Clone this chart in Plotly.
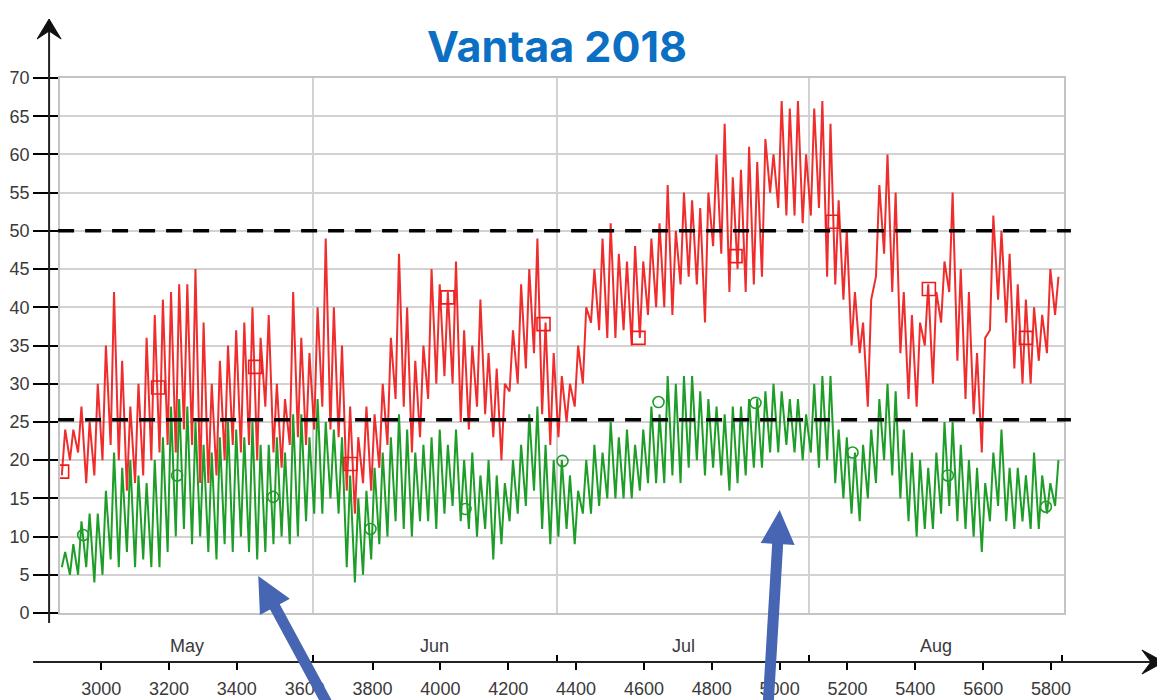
import math
import plotly.graph_objects as go

W, H = 1165, 700

# ---------------- data ----------------
# daily maxima / minima, 1 May (day 0) .. 31 Aug (day 122); x axis = hour of year
red_high = [24, 24, 27, 25, 30, 35, 42, 33, 27, 30, 36, 39, 41, 42, 43, 43, 45, 38, 30, 33,
            35, 37, 38, 40, 36, 39, 30, 28, 42, 36, 34, 40, 49, 40, 35, 27, 23, 27, 26, 30,
            36, 47, 40, 33, 35, 45, 43, 42, 46, 37, 35, 41, 34, 32, 30, 37, 43, 45, 49, 38,
            34, 31, 30, 35, 40, 45, 49, 51, 47, 46, 48, 46, 49, 51, 56, 50, 55, 54, 53, 55,
            60, 64, 57, 58, 61, 59, 62, 60, 67, 66, 67, 60, 66, 67, 64, 54, 50, 42, 38, 41,
            56, 60, 55, 42, 39, 38, 43, 42, 46, 55, 45, 42, 34, 36, 52, 50, 47, 43, 41, 40,
            39, 45, 44]
red_low = [18, 20, 21, 17, 18, 20, 22, 20, 16, 17, 18, 20, 21, 22, 21, 24, 22, 17, 17, 18,
           20, 22, 21, 22, 20, 27, 21, 19, 22, 23, 22, 24, 27, 24, 23, 16, 13, 17, 16, 19,
           22, 28, 27, 21, 23, 28, 30, 31, 30, 25, 24, 27, 26, 23, 20, 29, 30, 32, 34, 26,
           22, 23, 25, 27, 30, 38, 37, 36, 36, 37, 35, 36, 39, 40, 40, 39, 43, 44, 43, 38,
           48, 47, 42, 45, 42, 43, 44, 55, 53, 52, 52, 51, 52, 53, 44, 43, 41, 35, 34, 27,
           44, 47, 42, 34, 28, 27, 35, 30, 38, 42, 33, 28, 26, 21, 37, 41, 38, 32, 30, 30,
           33, 34, 39]
green_high = [8, 9, 12, 13, 13, 16, 21, 19, 20, 18, 17, 20, 23, 27, 28, 27, 25, 22, 21, 23,
              25, 24, 23, 25, 22, 22, 23, 21, 26, 26, 23, 28, 25, 24, 23, 18, 15, 16, 19, 21,
              23, 26, 24, 21, 22, 23, 24, 22, 24, 20, 21, 18, 20, 18, 17, 20, 22, 26, 27, 22,
              20, 20, 18, 16, 20, 22, 21, 25, 23, 24, 22, 24, 27, 26, 31, 30, 31, 31, 29, 28,
              27, 26, 27, 27, 28, 28, 29, 30, 29, 28, 28, 26, 30, 31, 31, 24, 23, 21, 22, 24,
              28, 30, 29, 24, 21, 20, 19, 21, 25, 25, 22, 20, 19, 17, 21, 24, 19, 19, 18, 21,
              18, 17, 20]
green_low = [6, 5, 5, 6, 4, 5, 7, 6, 8, 6, 7, 6, 6, 8, 10, 11, 9, 10, 8, 7,
             9, 8, 10, 8, 7, 8, 9, 10, 9, 10, 12, 13, 13, 15, 13, 6, 4, 5, 7, 9,
             10, 12, 11, 10, 12, 12, 11, 13, 14, 12, 11, 10, 11, 7, 9, 12, 13, 14, 16, 11,
             9, 10, 11, 9, 13, 13, 14, 15, 15, 15, 15, 16, 17, 17, 17, 18, 17, 19, 20, 18,
             19, 18, 16, 17, 18, 19, 19, 21, 21, 22, 21, 20, 21, 19, 20, 17, 15, 13, 12, 15,
             17, 20, 18, 15, 12, 10, 11, 11, 13, 14, 12, 11, 10, 8, 12, 14, 12, 11, 12, 11,
             11, 13, 14]

red_mark_hours = [2885, 3168, 3454, 3735, 4021, 4304, 4584, 4870, 5156, 5440, 5726]
red_mark_vals = [18.5, 29.5, 32.2, 19.5, 41.3, 37.8, 36.0, 46.7, 51.2, 42.4, 36.0]
green_mark_hours = [2947, 3224, 3507, 3794, 4074, 4360, 4643, 4929, 5215, 5496, 5785]
green_mark_vals = [10.2, 18.0, 15.2, 11.0, 13.6, 19.9, 27.6, 27.5, 21.0, 18.0, 13.9]

thresholds = [50, 25.3]
month_names = ["May", "Jun", "Jul", "Aug"]
month_starts = [2880, 3624, 4344, 5088, 5832]
hour_ticks = list(range(3000, 5801, 200))
y_ticks = list(range(0, 71, 5))
title_text = "Vantaa 2018"

HOUR0 = 2880


def zigzag(high, low):
    xs, ys = [], []
    for d, (hi, lo) in enumerate(zip(high, low)):
        xs += [HOUR0 + 24 * d + 4, HOUR0 + 24 * d + 14]
        ys += [lo, hi]
    return xs, ys


gx, gy = zigzag(green_high, green_low)
rx, ry = zigzag(red_high, red_low)

# ---------------- page geometry ----------------
# the page is photographed with an offset and a slight vertical squeeze;
# these map target picture pixels to paper fractions.
SX, OX = 0.9932, 8.0
SY, OY = 0.9714, 17.5


def X(xr):
    return (xr / SX - OX) / W


def Y(yr):
    return 1 - (yr / SY - OY) / H


GREEN = "#1e9e28"
RED = "#ee1c1c"
GRID = "#d2d2d2"
FRAME = "#c4c4c4"
TXT = "#3a3a3a"
FONT = "Liberation Sans, Arial, sans-serif"
XRANGE = [2879, 5838]

fig = go.Figure()
fig.add_trace(go.Scatter(x=gx, y=gy, mode="lines", line=dict(color=GREEN, width=2),
                         hoverinfo="skip", showlegend=False))
fig.add_trace(go.Scatter(x=rx, y=ry, mode="lines", line=dict(color=RED, width=2),
                         opacity=0.92, hoverinfo="skip", showlegend=False))
fig.add_trace(go.Scatter(x=green_mark_hours, y=green_mark_vals, mode="markers",
                         marker=dict(symbol="circle-open", size=11, color=GREEN,
                                     line=dict(width=1.6)), showlegend=False))
fig.add_trace(go.Scatter(x=red_mark_hours, y=red_mark_vals, mode="markers",
                         marker=dict(symbol="square-open", size=13, color=RED,
                                     line=dict(width=1.6)), showlegend=False))
fig.add_trace(go.Scatter(x=[hour_ticks[0]], y=[None], xaxis="x2", showlegend=False, hoverinfo="skip"))
fig.add_trace(go.Scatter(x=[hour_ticks[0]], y=[None], xaxis="x3", showlegend=False, hoverinfo="skip"))

fig.update_layout(
    width=W, height=H,
    margin=dict(l=0, r=0, t=0, b=0),
    paper_bgcolor="white", plot_bgcolor="white",
    showlegend=False,
    font=dict(family=FONT, color=TXT),
    xaxis=dict(domain=[X(60), X(1063)], range=XRANGE, tickvals=month_starts[1:4],
               showticklabels=False, ticks="", showgrid=True, gridcolor=GRID, gridwidth=1.6,
               showline=True, linecolor=FRAME, linewidth=2, mirror=True, zeroline=False),
    yaxis=dict(domain=[Y(612), Y(77)], range=[0, 70], tickvals=y_ticks,
               showgrid=True, gridcolor=GRID, gridwidth=1.6, ticks="outside", ticklen=25,
               tickwidth=1.5, tickcolor="black", showline=True, linecolor=FRAME, linewidth=2,
               mirror=True, zeroline=False, tickfont=dict(size=18, color=TXT)),
    xaxis2=dict(overlaying="x", anchor="free", position=Y(661), side="bottom",
                range=XRANGE, tickvals=hour_ticks, ticks="outside", ticklen=7, tickwidth=1.5,
                tickcolor="black", showgrid=False, showline=False, zeroline=False,
                tickfont=dict(size=18, color=TXT), ticklabelstandoff=3),
    xaxis3=dict(overlaying="x", anchor="free", position=Y(661), side="bottom",
                range=XRANGE, tickvals=month_starts, ticks="inside", ticklen=7, tickwidth=1.5,
                tickcolor="black", showticklabels=False, showgrid=False, showline=False,
                zeroline=False),
)

shapes = []
for t in thresholds:
    shapes.append(dict(type="line", xref="paper", yref="y", x0=X(58), x1=X(1070), y0=t, y1=t,
                       line=dict(color="black", width=3.5, dash="16px,11px"), layer="above"))
# y axis arrow
shapes.append(dict(type="line", xref="paper", yref="paper", x0=X(49), x1=X(49), y0=Y(622), y1=Y(22),
                   line=dict(color="#222", width=2)))
shapes.append(dict(type="path", xref="paper", yref="paper",
                   path=f"M {X(37)},{Y(38)} L {X(49)},{Y(18)} L {X(61)},{Y(38)} L {X(49)},{Y(30)} Z",
                   fillcolor="#111", line=dict(color="#111", width=1)))
# bottom axis arrow
shapes.append(dict(type="line", xref="paper", yref="paper", x0=X(33), x1=X(1155), y0=Y(661), y1=Y(661),
                   line=dict(color="#222", width=2)))
shapes.append(dict(type="path", xref="paper", yref="paper",
                   path=f"M {X(1141)},{Y(649)} L {X(1163)},{Y(661)} L {X(1141)},{Y(673)} L {X(1150)},{Y(661)} Z",
                   fillcolor="#111", line=dict(color="#111", width=1)))


def arrow_path(tail, tip, head_len=35, head_half=17, shaft_half=5.5):
    vx, vy = tip[0] - tail[0], tip[1] - tail[1]
    L = math.hypot(vx, vy)
    ux, uy = vx / L, vy / L
    pxp, pyp = -uy, ux
    bx, by = tip[0] - head_len * ux, tip[1] - head_len * uy
    pts = [
        (tail[0] + shaft_half * pxp, tail[1] + shaft_half * pyp),
        (bx + shaft_half * pxp, by + shaft_half * pyp),
        (bx + head_half * pxp, by + head_half * pyp),
        tip,
        (bx - head_half * pxp, by - head_half * pyp),
        (bx - shaft_half * pxp, by - shaft_half * pyp),
        (tail[0] - shaft_half * pxp, tail[1] - shaft_half * pyp),
    ]
    return "M " + " L ".join(f"{X(a)},{Y(b)}" for a, b in pts) + " Z"


BLUE = "#4665b3"
shapes.append(dict(type="path", xref="paper", yref="paper", path=arrow_path((332, 712), (258, 575)),
                   fillcolor=BLUE, line=dict(width=0), layer="above"))
shapes.append(dict(type="path", xref="paper", yref="paper", path=arrow_path((767, 712), (779, 509), head_len=34),
                   fillcolor=BLUE, line=dict(width=0), layer="above"))
fig.update_layout(shapes=shapes)

annotations = [
    dict(text=f"<b>{title_text}</b>", xref="paper", yref="paper", x=X(557), y=0.999,
         xanchor="center", yanchor="top", showarrow=False, borderpad=0,
         font=dict(size=43, color="#0b6fc3", family="Inter, Liberation Sans, Arial, sans-serif")),
]
for i, name in enumerate(month_names):
    mid = (month_starts[i] + month_starts[i + 1]) / 2
    annotations.append(dict(text=name, xref="x", yref="paper", x=mid, y=Y(645),
                            xanchor="center", yanchor="middle", showarrow=False,
                            font=dict(size=18, color=TXT)))
fig.update_layout(annotations=annotations)

fig.write_html("out.html")
